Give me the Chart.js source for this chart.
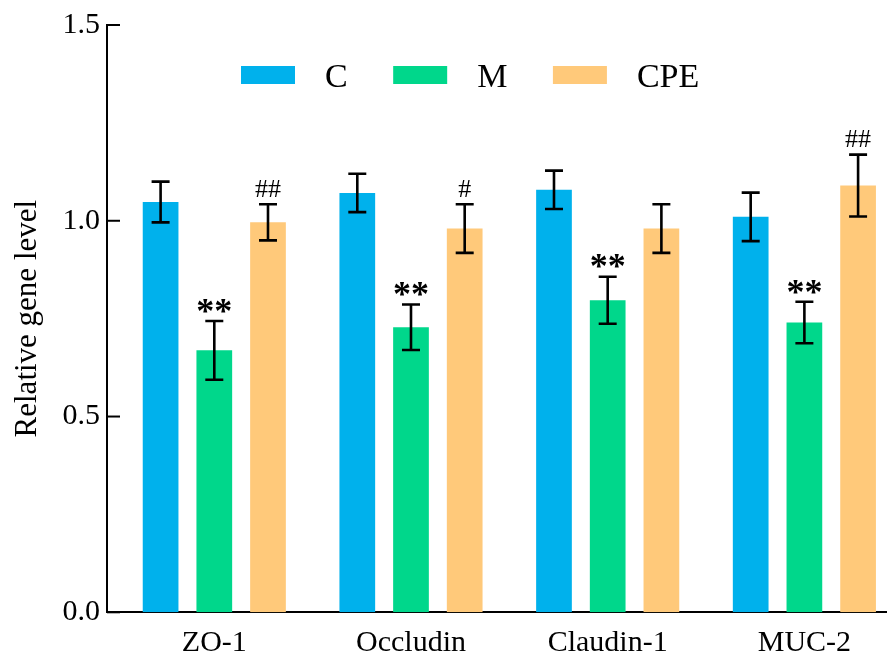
<!DOCTYPE html>
<html>
<head>
<meta charset="utf-8">
<script src="https://cdn.jsdelivr.net/npm/chart.js@4.4.1/dist/chart.umd.min.js"></script>
<style>
  html, body { margin: 0; padding: 0; background: #ffffff; }
  #wrap { width: 887px; height: 658px; position: relative; }
</style>
</head>
<body>
<div id="wrap"><canvas id="c" width="887" height="658"></canvas></div>
<script>
// ---- data ----
const categories = ['ZO-1', 'Occludin', 'Claudin-1', 'MUC-2'];
const seriesNames = ['C', 'M', 'CPE'];
const valuesC   = [1.048, 1.071, 1.079, 1.010];
const errorsC   = [0.052, 0.049, 0.049, 0.062];
const valuesM   = [0.669, 0.728, 0.797, 0.740];
const errorsM   = [0.075, 0.058, 0.060, 0.053];
const valuesCPE = [0.996, 0.980, 0.980, 1.090];
const errorsCPE = [0.046, 0.062, 0.062, 0.079];
const marksC    = ['', '', '', ''];
const marksM    = ['**', '**', '**', '**'];
const marksCPE  = ['##', '#', '', '##'];
const yTicks    = [0, 0.5, 1.0, 1.5];
const yTitle    = 'Relative gene level';

// ---- styles ----
const FONT = "'Liberation Serif', 'Times New Roman', serif";
const colors = ['#00B1EC', '#00D78B', '#FFC97A'];

function toPoints(vals) { return vals.map((v, i) => ({ x: i, y: v })); }

const allValues = [valuesC, valuesM, valuesCPE];
const allErrors = [errorsC, errorsM, errorsCPE];
const allMarks  = [marksC, marksM, marksCPE];

const datasets = seriesNames.map((name, k) => ({
  label: name,
  data: toPoints(allValues[k]),
  backgroundColor: colors[k],
  borderWidth: 0,
  categoryPercentage: 0.819,
  barPercentage: 0.665
}));

const overlay = {
  id: 'overlay',
  afterDatasetsDraw(chart) {
    const ctx = chart.ctx;
    const y = chart.scales.y;
    ctx.save();
    chart.data.datasets.forEach((ds, k) => {
      const meta = chart.getDatasetMeta(k);
      meta.data.forEach((bar, i) => {
        const v = allValues[k][i], e = allErrors[k][i];
        const yt = y.getPixelForValue(v + e);
        const yb = y.getPixelForValue(v - e);
        const x = bar.x;
        ctx.strokeStyle = '#000';
        ctx.lineWidth = 2.6;
        ctx.lineCap = 'butt';
        ctx.beginPath();
        ctx.moveTo(x, yt); ctx.lineTo(x, yb);
        ctx.moveTo(x - 9, yt); ctx.lineTo(x + 9, yt);
        ctx.moveTo(x - 9, yb); ctx.lineTo(x + 9, yb);
        ctx.stroke();
        const mark = allMarks[k][i];
        if (mark) {
          const isStar = mark.indexOf('*') >= 0;
          ctx.font = isStar ? ('bold 36px ' + FONT) : ('26px ' + FONT);
          ctx.fillStyle = '#000';
          ctx.textAlign = 'center';
          ctx.textBaseline = 'alphabetic';
          const m = ctx.measureText(mark);
          const gap = isStar ? 7 : 6;
          ctx.fillText(mark, x, yt - 1.3 - gap - m.actualBoundingBoxDescent);
        }
      });
    });
    ctx.restore();
  },
  afterDraw(chart) {
    const ctx = chart.ctx;
    const y = chart.scales.y;
    const area = chart.chartArea;
    ctx.save();
    ctx.strokeStyle = '#000';
    ctx.lineWidth = 2;
    yTicks.forEach(t => {
      const py = y.getPixelForValue(t);
      ctx.beginPath();
      ctx.moveTo(area.left, py);
      ctx.lineTo(area.left + 13, py);
      ctx.stroke();
    });
    ctx.font = '34px ' + FONT;
    ctx.textAlign = 'left';
    ctx.textBaseline = 'alphabetic';
    let lx = 241;
    chart.data.datasets.forEach((ds, k) => {
      ctx.fillStyle = ds.backgroundColor;
      ctx.fillRect(lx, 66, 54, 18);
      ctx.fillStyle = '#000';
      const tx = lx + 84;
      ctx.fillText(ds.label, tx, 86.5);
      lx = tx + ctx.measureText(ds.label).width + 45.5;
    });
    ctx.restore();
  }
};

new Chart(document.getElementById('c'), {
  type: 'bar',
  data: { datasets },
  plugins: [overlay],
  options: {
    responsive: false,
    animation: false,
    layout: { padding: { top: 22.7, left: 0, right: 0, bottom: 0 } },
    plugins: { legend: { display: false }, tooltip: { enabled: false } },
    scales: {
      x: {
        type: 'linear',
        offset: false,
        min: -0.5455,
        max: 3.42,
        grid: { display: false, drawTicks: false },
        border: { display: true, color: '#000', width: 2 },
        afterBuildTicks: s => { s.ticks = categories.map((c, i) => ({ value: i })); },
        afterFit: s => { s.height = 45.7; },
        ticks: {
          color: '#000',
          padding: 13,
          maxRotation: 0,
          autoSkip: false,
          font: { family: FONT, size: 30 },
          callback: v => categories[v]
        }
      },
      y: {
        min: 0,
        max: 1.5,
        grid: { display: false, drawTicks: false },
        border: { display: true, color: '#000', width: 2 },
        afterBuildTicks: s => { s.ticks = yTicks.map(v => ({ value: v })); },
        afterFit: s => { s.width = 107; },
        ticks: {
          color: '#000',
          padding: 7,
          font: { family: FONT, size: 30 },
          callback: v => Number(v).toFixed(1)
        },
        title: {
          display: true,
          text: yTitle,
          color: '#000',
          padding: { top: 9, bottom: 0 },
          font: { family: FONT, size: 31 }
        }
      }
    }
  }
});
</script>
</body>
</html>
